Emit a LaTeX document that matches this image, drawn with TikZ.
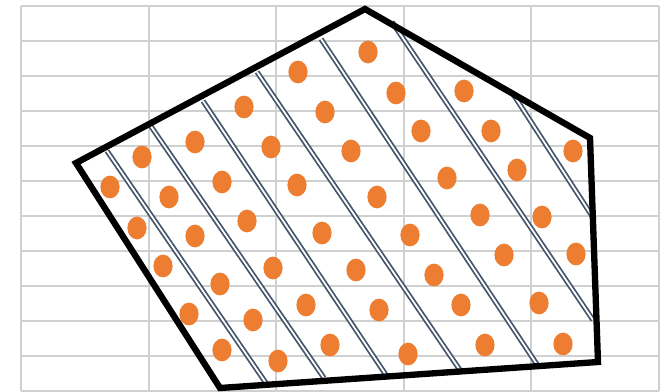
\documentclass[tikz,border=0pt]{standalone}
\usepackage{tikz}
\definecolor{PlotOrange}{HTML}{ED7D31}
\definecolor{PlotSlate}{HTML}{44546A}
\definecolor{PlotGrid}{HTML}{D0D0D0}
\tikzset{
  gridline/.style={PlotGrid,line width=1.8pt},
  hatchline/.style={draw=PlotSlate,double=white,double distance=1.5pt,line width=1.5pt},
  dotmark/.style={fill=PlotOrange},
}
\begin{document}
\begin{tikzpicture}[x=0.03cm,y=-0.03cm]
\useasboundingbox (0,0) rectangle (669,392);
% background grid
\foreach \gx in {21,149,276,404,531,659}
  \draw[gridline] (\gx,6)--(\gx,391);
\foreach \gy in {6,41,76,111,146,181,216,251,286,321,356,391}
  \draw[gridline] (21,\gy)--(659,\gy);
% hatching
\draw[hatchline] (107,151)--(268,386);
\draw[hatchline] (150,125)--(324,378);
\draw[hatchline] (203,101)--(388,378);
\draw[hatchline] (257,72)--(462,373);
\draw[hatchline] (321,39)--(538,366);
\draw[hatchline] (392,22)--(593,320);
\draw[hatchline] (513,94)--(594,219);
% points
\foreach \dx/\dy in {368/52,298/72,396/93,464/91,244/107,325/112,421/131,491/131,
  195/142,271/147,142/157,351/151,573/151,222/182,297/185,110/187,447/178,517/170,
  169/197,377/197,137/228,195/236,247/221,322/233,410/235,480/215,542/217,
  163/266,273/268,356/270,434/275,504/255,576/254,220/284,306/305,379/310,
  461/305,539/303,189/314,253/320,222/350,278/361,330/345,408/354,485/345,563/344}
  \fill[dotmark] (\dx,\dy) ellipse (9.6 and 11.4);
% boundary
\draw[line width=5.4pt] (76,163)--(365,9)--(590,138)--(598,362)--(220,388)--cycle;
\end{tikzpicture}
\end{document}
